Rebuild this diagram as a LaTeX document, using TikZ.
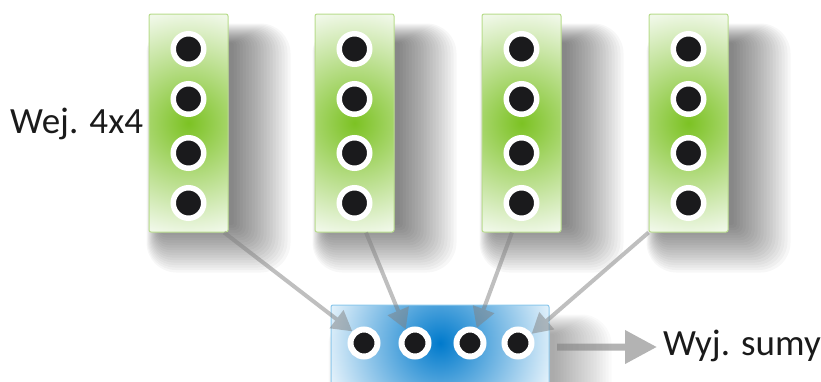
\documentclass[tikz,border=0pt]{standalone}
\usepackage{fontspec}
\setmainfont{Carlito}
\usetikzlibrary{arrows.meta,calc,backgrounds}

\definecolor{greenmid}{RGB}{124,194,35}
\definecolor{greenlight}{RGB}{240,248,232}
\definecolor{greenline}{RGB}{184,220,140}
\definecolor{bluemid}{RGB}{0,122,204}
\definecolor{bluelight}{RGB}{234,245,252}
\definecolor{blueline}{RGB}{140,200,236}
\definecolor{holeblack}{RGB}{26,26,28}
\definecolor{arrowgray}{RGB}{128,128,128}
\definecolor{textdark}{RGB}{26,26,26}

% glows at natural size (bp)
\pgfdeclareradialshading{greenglow}{\pgfpointorigin}{color(0bp)=(greenmid); color(112bp)=(greenlight); color(130bp)=(greenlight)}
\pgfdeclareradialshading{blueglow}{\pgfpointorigin}{color(0bp)=(bluemid); color(118bp)=(bluelight); color(130bp)=(bluelight)}

\tikzset{
  inbox/.style={draw=greenline, line width=1pt, rounded corners=2pt,
    minimum width=79pt, minimum height=218pt, inner sep=0pt, fill=greenlight,
    path picture={\node[inner sep=0pt] at (path picture bounding box.center)
      {\pgfuseshading{greenglow}};}},
  sumbox/.style={draw=blueline, line width=1pt, rounded corners=2pt,
    minimum width=218pt, minimum height=84pt, inner sep=0pt, fill=bluelight,
    path picture={\node[inner sep=0pt] at ($(path picture bounding box.center)+(0,-4)$)
      {\pgfuseshading{blueglow}};}},
  hole/.style={circle, fill=holeblack, draw=white, line width=5.5pt,
    minimum size=30.5pt, inner sep=0pt},
  outhole/.style={hole, line width=6pt, minimum size=27pt},
  feed/.style={draw=arrowgray, fill=arrowgray, line width=4pt,
    -{Triangle[length=20pt,width=22pt]}},
  outarrow/.style={draw=arrowgray, fill=arrowgray, line width=7pt,
    -{Triangle[length=32pt,width=32pt]}},
  lbl/.style={text=textdark, font=\fontsize{37}{44}\selectfont, inner sep=0pt},
  glowlayer/.style={fill=black, opacity=0.03}
}

\begin{document}
\begin{tikzpicture}[x=1pt,y=-1pt]
  \useasboundingbox (0,0) rectangle (821,381);

  % Input columns
  \foreach \i/\x in {1/188.5,2/354.5,3/521.5,4/688.5}{
    \node[inbox] (g\i) at (\x,123) {};
    \foreach \j/\y in {1/49,2/99,3/153,4/203}
      \node[hole] (g\i-\j) at (\x,\y) {};
  }
  \node[lbl, anchor=base west] (inlbl) at (10,133) {Wej. 4x4};

  % Sum block
  \node[sumbox] (s) at (440,347) {};
  \foreach \j/\x in {1/364,2/415,3/470,4/518}
    \node[outhole] (s\j) at (\x,343) {};
  \node[lbl, anchor=base west] (outlbl) at (663,355) {Wyj. sumy};

  % Arrows
  \begin{scope}[transparency group, opacity=0.5]
    \draw[feed] (g1.-72) -- (s1.135);
  \end{scope}
  \begin{scope}[transparency group, opacity=0.5]
    \draw[feed] (g2.-84) -- (s2.124);
  \end{scope}
  \begin{scope}[transparency group, opacity=0.5]
    \draw[feed] (g3.-95) -- (s3.66);
  \end{scope}
  \begin{scope}[transparency group, opacity=0.5]
    \draw[feed] (g4.south west) -- (s4.34);
  \end{scope}
  \begin{scope}[transparency group, opacity=0.6]
    \draw[outarrow, shorten <=7.5pt, shorten >=6pt] (s.east) -- (outlbl.west |- s.east);
  \end{scope}

  % Shadows
  \begin{scope}[on background layer]
    \foreach \n in {g1,g2,g3,g4}
      \foreach \k in {1,...,20}
        \fill[glowlayer, rounded corners={1.5pt*\k}]
          ($(\n.north west)+(14-0.8*\k,30-\k)$) rectangle ($(\n.south east)+(2+3*\k,-10+2.5*\k)$);
    \foreach \k in {1,...,20}
      \fill[glowlayer, opacity=0.02, rounded corners={1.5pt*\k}]
        ($(s.north west)+(14-0.8*\k,30-\k)$) rectangle ($(s.south east)+(2+3*\k,2.5*\k)$);
  \end{scope}
\end{tikzpicture}
\end{document}
